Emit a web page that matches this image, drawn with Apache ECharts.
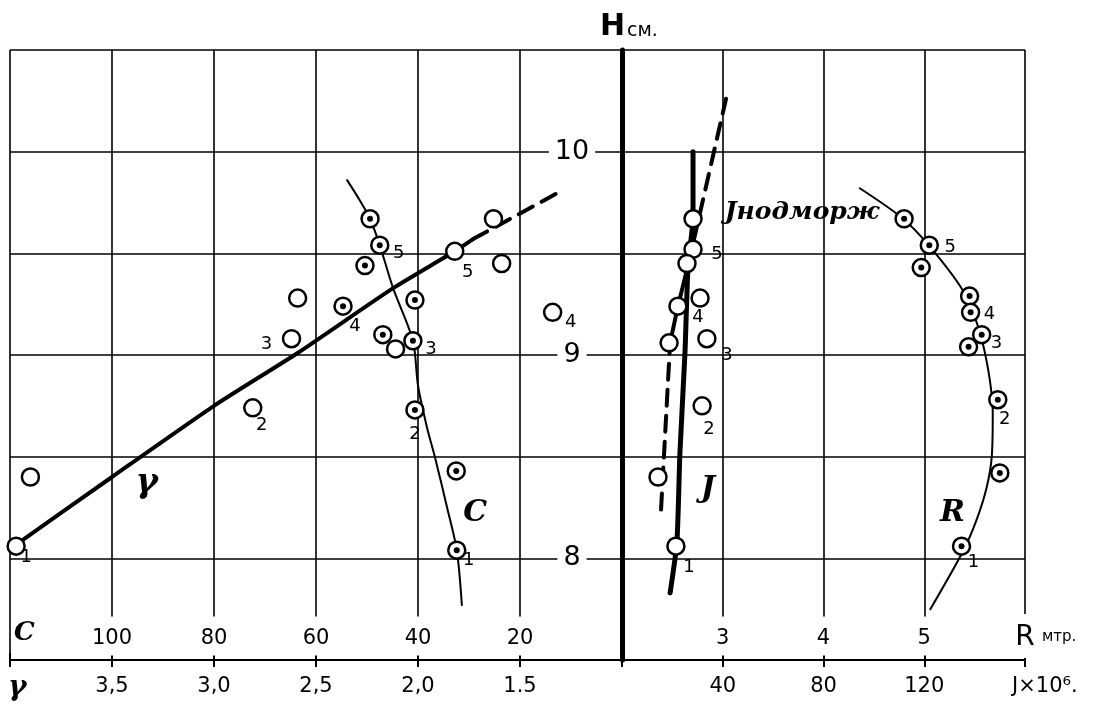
<!DOCTYPE html>
<html>
<head>
<meta charset="utf-8">
<title>H см.</title>
<script src="https://cdn.jsdelivr.net/npm/echarts@6/dist/echarts.min.js"></script>
<style>
html, body { margin: 0; padding: 0; background: #fff; }
#chart { width: 1115px; height: 711px; }
</style>
</head>
<body>
<div id="chart"></div>
<script>
/******************** data ********************/
// tick labels
var cTicks = [100, 80, 60, 40, 20];
var gammaTickVals = [3.5, 3.0, 2.5, 2.0, 1.5];
var gammaTicks = ['3,5', '3,0', '2,5', '2,0', '1.5'];
var rTicks = [3, 4, 5];
var jTicks = [40, 80, 120];
var hTicks = [10, 9, 8];

// gamma, open circles (left panel, lower scale)
var gammaX = [3.97, 3.90, 2.81, 2.62, 2.59, 2.11, 1.82, 1.63, 1.59, 1.34];
var gammaH = [8.06, 8.40, 8.74, 9.08, 9.28, 9.03, 9.51, 9.67, 9.45, 9.21];
var gammaNum = ['1', '', '2', '3', '', '', '5', '', '', '4'];
var gammaLineX = [3.98, 3.50, 3.00, 2.59, 2.12, 1.82, 1.73];
var gammaLineH = [8.06, 8.40, 8.75, 9.01, 9.33, 9.51, 9.57];
var gammaDashX = [1.73, 1.31];
var gammaDashH = [9.57, 9.80];

// C, dotted circles (left panel, upper scale)
var cX = [49.4, 47.5, 50.4, 40.6, 54.7, 46.9, 41.0, 40.6, 32.5, 32.4];
var cH = [9.67, 9.54, 9.44, 9.27, 9.24, 9.10, 9.07, 8.73, 8.43, 8.04];
var cNum = ['', '5', '', '', '4', '', '3', '2', '', '1'];
var cLineX = [53.9, 51.4, 49.4, 47.5, 44.9, 41.0, 40.0, 38.2, 36.7, 34.3, 32.4, 31.4];
var cLineH = [9.86, 9.76, 9.67, 9.54, 9.33, 9.07, 8.85, 8.64, 8.50, 8.25, 8.04, 7.77];

// J x 10^6, open circles (right panel, lower scale)
var jX = [28.2, 28.2, 25.8, 31.0, 22.2, 18.7, 33.7, 31.8, 14.3, 21.4];
var jH = [9.67, 9.52, 9.45, 9.28, 9.24, 9.06, 9.08, 8.75, 8.40, 8.06];
var jNum = ['', '5', '', '', '4', '', '3', '2', '', '1'];
var jLineX = [28.2, 28.2, 26.2, 25.0, 23.0, 21.8, 19.1];
var jLineH = [10.0, 9.68, 9.43, 9.01, 8.52, 8.08, 7.83];
var jDashLowX = [15.5, 19.1];
var jDashLowH = [8.24, 9.06];
var jMidX = [19.1, 22.2, 26.2];
var jMidH = [9.06, 9.24, 9.44];
var jDashUpX = [26.2, 41.3];
var jDashUpH = [9.44, 10.26];

// R metres, dotted circles (right panel, upper scale)
var rX = [4.80, 5.05, 4.97, 5.45, 5.46, 5.57, 5.44, 5.73, 5.75, 5.37];
var rH = [9.67, 9.54, 9.43, 9.29, 9.21, 9.10, 9.04, 8.78, 8.42, 8.06];
var rNum = ['', '5', '', '', '4', '', '3', '2', '', '1'];
var rLineX = [4.36, 4.79, 5.06, 5.38, 5.52, 5.58, 5.65, 5.68, 5.67, 5.62, 5.52, 5.39, 5.06];
var rLineH = [9.82, 9.67, 9.53, 9.32, 9.16, 9.06, 8.88, 8.72, 8.50, 8.35, 8.19, 8.04, 7.75];

/******************** style ********************/
var INK = '#000';
var FONT = 'DejaVu Sans';
var HAND = 'DejaVu Serif';

// where each little number sits next to its circle
var gammaOff = [[10, 11], 0, [9, 17], [-25, 6], 0, 0, [13, 21], 0, 0, [18, 10]];
var cOff = [0, [19, 8], 0, 0, [12, 20], 0, [18, 9], [0, 24], 0, [12, 10]];
var jOff = [0, [24, 5], 0, 0, [20, 11], 0, [20, 17], [7, 23], 0, [13, 21]];
var rOff = [0, [21, 2], 0, 0, [19, 2], 0, [28, -4], [7, 20], 0, [12, 16]];

function pairs(xs, ys) {
    var out = [];
    for (var i = 0; i < xs.length; ++i) out.push([xs[i], ys[i]]);
    return out;
}

function points(xs, ys, nums, offs) {
    var out = [];
    for (var i = 0; i < xs.length; ++i) {
        var item = { value: [xs[i], ys[i]] };
        if (nums[i]) {
            item.label = { show: true, formatter: nums[i], offset: offs[i] };
        }
        out.push(item);
    }
    return out;
}

// returns the label for a tick value, or '' when the tick carries none
function pick(list, labels, box) {
    return function (v) {
        for (var i = 0; i < list.length; ++i) {
            if (Math.abs(list[i] - v) < 1e-6) {
                var s = labels ? labels[i] : String(list[i]);
                return box ? '{b|' + s + '}' : s;
            }
        }
        return '';
    };
}

function lineSeries(xi, yi, xs, ys, width, dash, smooth) {
    return {
        type: 'line', xAxisIndex: xi, yAxisIndex: yi,
        data: pairs(xs, ys), symbol: 'none', smooth: smooth || false,
        lineStyle: { color: INK, width: width, type: dash || 'solid', cap: 'round' },
        z: 2, silent: true, animation: false
    };
}

function ringSeries(xi, yi, xs, ys, nums, offs) {
    return {
        type: 'scatter', xAxisIndex: xi, yAxisIndex: yi,
        data: points(xs, ys, nums, offs), symbol: 'circle', symbolSize: 17,
        itemStyle: { color: '#fff', borderColor: INK, borderWidth: 2.5, opacity: 1 },
        label: { show: false, position: 'inside', color: INK, fontFamily: FONT, fontSize: 18 },
        z: 3, silent: true, animation: false
    };
}

function dotSeries(xi, yi, xs, ys) {
    return {
        type: 'scatter', xAxisIndex: xi, yAxisIndex: yi,
        data: pairs(xs, ys), symbol: 'circle', symbolSize: 6,
        itemStyle: { color: INK, opacity: 1 }, z: 4, silent: true, animation: false
    };
}

function noteSeries(xi, yi, x, y, text, size) {
    return {
        type: 'scatter', xAxisIndex: xi, yAxisIndex: yi,
        data: [[x, y]], symbolSize: 0,
        itemStyle: { color: INK, opacity: 1 },
        label: { show: true, position: 'inside', formatter: text, color: INK, opacity: 1,
                 fontFamily: HAND, fontStyle: 'italic', fontWeight: 'bold', fontSize: size },
        z: 5, silent: true, animation: false
    };
}

var split = { show: true, lineStyle: { color: INK, width: 1.6 } };
var numLabel = { color: INK, fontFamily: FONT, fontSize: 21 };
var boxRich = { b: { backgroundColor: '#fff', padding: [12, 8, 6, 8], color: INK, fontFamily: FONT, fontSize: 21 },
                big: { backgroundColor: '#fff', padding: [10, 8, 6, 8], color: INK, fontFamily: FONT, fontSize: 28 } };

var option = {
    backgroundColor: '#fff',
    animation: false,
    grid: [
        { left: 10, top: 50, width: 612, height: 610 },
        { left: 622, top: 50, width: 403, height: 610 }
    ],
    xAxis: [
        {   // C, upper scale of left panel
            type: 'value', gridIndex: 0, min: 0, max: 120, interval: 20, inverse: true,
            position: 'bottom',
            axisLine: { show: false },
            axisTick: { show: true, inside: true, length: 7, lineStyle: { color: INK, width: 2 } },
            axisLabel: Object.assign({ inside: true, margin: 24, verticalAlign: 'middle',
                formatter: pick(cTicks, null, true), rich: boxRich }, numLabel),
            splitLine: split
        },
        {   // gamma, lower scale of left panel
            type: 'value', gridIndex: 0, min: 1, max: 4, interval: 0.5, inverse: true,
            position: 'bottom',
            axisLine: { show: true, lineStyle: { color: INK, width: 2 } },
            axisTick: { show: true, length: 7, lineStyle: { color: INK, width: 2 } },
            axisLabel: Object.assign({ margin: 16, formatter: pick(gammaTickVals, gammaTicks) }, numLabel),
            splitLine: { show: false }
        },
        {   // R metres, upper scale of right panel
            type: 'value', gridIndex: 1, min: 2, max: 6, interval: 1,
            position: 'bottom',
            axisLine: { show: false },
            axisTick: { show: true, inside: true, length: 7, lineStyle: { color: INK, width: 2 } },
            axisLabel: Object.assign({ inside: true, margin: 24, verticalAlign: 'middle',
                formatter: function (v) {
                    if (v === 6) return '{big|R}';
                    return pick(rTicks, null, true)(v);
                },
                rich: boxRich }, numLabel),
            splitLine: split
        },
        {   // J x 10^6, lower scale of right panel
            type: 'value', gridIndex: 1, min: 0, max: 160, interval: 40,
            position: 'bottom',
            axisLine: { show: true, lineStyle: { color: INK, width: 2 } },
            axisTick: { show: true, length: 7, lineStyle: { color: INK, width: 2 } },
            axisLabel: Object.assign({ margin: 16, formatter: pick(jTicks) }, numLabel),
            splitLine: { show: false }
        }
    ],
    yAxis: [
        {
            type: 'value', gridIndex: 0, min: 7.5, max: 10.5, interval: 0.5, position: 'right',
            axisLine: { show: true, lineStyle: { color: INK, width: 5 } },
            axisTick: { show: false },
            axisLabel: { inside: true, margin: 50, align: 'center', verticalAlign: 'middle',
                formatter: pick(hTicks, null, true),
                rich: { b: { backgroundColor: '#fff', padding: [3, 6], color: INK, fontFamily: FONT, fontSize: 27 } } },
            splitLine: split
        },
        {
            type: 'value', gridIndex: 1, min: 7.5, max: 10.5, interval: 0.5, position: 'left',
            axisLine: { show: false }, axisTick: { show: false }, axisLabel: { show: false },
            splitLine: split
        }
    ],
    graphic: [
        { type: 'text', left: 600, top: 12, style: { text: 'H', fill: INK, font: 'bold 30px ' + FONT } },
        { type: 'text', left: 627, top: 22, style: { text: 'см.', fill: INK, font: '19px ' + FONT } },
        { type: 'text', left: 14, top: 620, z: 10, style: { text: 'C', fill: INK, font: 'italic bold 26px ' + HAND } },
        { type: 'text', left: 8, top: 674, style: { text: 'γ', fill: INK, font: 'italic bold 28px ' + HAND } },
        { type: 'text', left: 1042, top: 630, style: { text: 'мтр.', fill: INK, font: '15px ' + FONT } },
        { type: 'text', left: 1012, top: 676, style: { text: 'J×10⁶.', fill: INK, font: '21px ' + FONT } }
    ],
    series: [
        lineSeries(1, 0, gammaLineX, gammaLineH, 4, 'solid', 0.2),
        lineSeries(1, 0, gammaDashX, gammaDashH, 4, [16, 10]),
        lineSeries(0, 0, cLineX, cLineH, 2, 'solid', 0.3),
        lineSeries(3, 1, jLineX, jLineH, 5, 'solid', 0.2),
        lineSeries(3, 1, jDashLowX, jDashLowH, 4, [16, 10]),
        lineSeries(3, 1, jMidX, jMidH, 4, 'solid'),
        lineSeries(3, 1, jDashUpX, jDashUpH, 4, [16, 10]),
        lineSeries(2, 1, rLineX, rLineH, 2, 'solid', 0.3),

        ringSeries(1, 0, gammaX, gammaH, gammaNum, gammaOff),
        ringSeries(0, 0, cX, cH, cNum, cOff),
        dotSeries(0, 0, cX, cH),
        ringSeries(3, 1, jX, jH, jNum, jOff),
        ringSeries(2, 1, rX, rH, rNum, rOff),
        dotSeries(2, 1, rX, rH),

        noteSeries(1, 0, 3.33, 8.37, 'γ', 34),
        noteSeries(0, 0, 28.8, 8.22, 'C', 30),
        noteSeries(3, 1, 34.1, 8.34, 'J', 30),
        noteSeries(2, 1, 5.28, 8.22, 'R', 30),
        noteSeries(3, 1, 71.5, 9.70, 'Jнодморж', 25)
    ]
};

var chart = echarts.init(document.getElementById('chart'));
chart.setOption(option);
</script>
</body>
</html>
